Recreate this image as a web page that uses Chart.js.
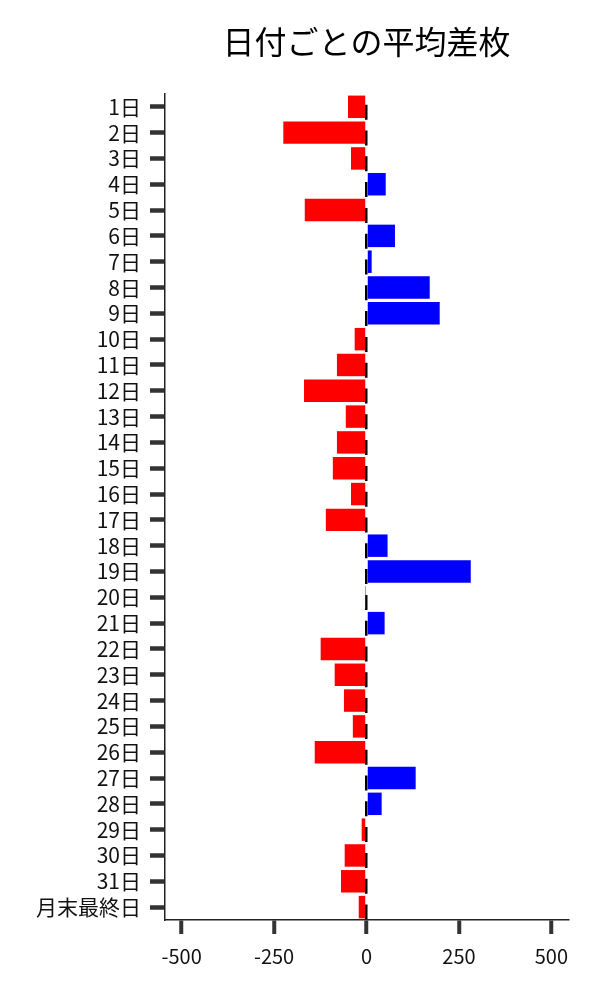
<!DOCTYPE html>
<html>
<head>
<meta charset="utf-8">
<script src="https://cdn.jsdelivr.net/npm/chart.js@4"></script>
<style>
  body { margin: 0; background: #fff; }
  #wrap { width: 600px; height: 1000px; }
</style>
</head>
<body>
<div id="wrap"><canvas id="myChart"></canvas></div>
<script>
// data
var days = ["1日","2日","3日","4日","5日","6日","7日","8日","9日","10日",
  "11日","12日","13日","14日","15日","16日","17日","18日","19日","20日",
  "21日","22日","23日","24日","25日","26日","27日","28日","29日","30日",
  "31日","月末最終日"];
var diffs = [-50,-225,-42,52,-167,77,14,171,198,-32,
  -80,-169,-56,-80,-91,-42,-110,57,282,-2,
  49,-124,-86,-61,-37,-140,133,41,-13,-59,
  -69,-21];
var xTicks = [-500,-250,0,250,500];
var chartTitle = "日付ごとの平均差枚";

var barColors = diffs.map(function(v){ return v < 0 ? "#ff0000" : "#0000ff"; });
var jp = "'Noto Sans CJK JP', 'Noto Sans', sans-serif";

new Chart("myChart", {
  type: "bar",
  data: {
    labels: days,
    datasets: [{
      data: diffs,
      backgroundColor: barColors,
      borderWidth: 0,
      barPercentage: 0.87,
      categoryPercentage: 1.0
    }]
  },
  options: {
    indexAxis: "y",
    responsive: true,
    maintainAspectRatio: false,
    animation: false,
    layout: { padding: { top: 23, right: 32, bottom: 0, left: 0 } },
    plugins: {
      legend: { display: false },
      tooltip: { enabled: false },
      title: {
        display: true,
        text: chartTitle,
        fullSize: false,
        color: "#000",
        font: { family: jp, size: 32, weight: "normal" },
        padding: { top: 0, bottom: 32.5 }
      }
    },
    scales: {
      x: {
        min: -545,
        max: 545,
        afterBuildTicks: function(scale){
          scale.ticks = xTicks.map(function(v){ return { value: v }; });
        },
        afterFit: function(scale){ scale.height = 80; },
        // dashed zero line (grid dash comes from border.dash in v4)
        border: { display: true, color: "#222", width: 1.5, dash: [15, 10.8], dashOffset: 15 },
        grid: {
          drawOnChartArea: true,
          color: function(ctx){ return ctx.tick && ctx.tick.value === 0 ? "#000" : "rgba(0,0,0,0)"; },
          lineWidth: 2.5,
          tickColor: "#333",
          tickWidth: 4,
          tickLength: 14
        },
        ticks: {
          color: "#111",
          padding: 10,
          font: { family: jp, size: 20 }
        }
      },
      y: {
        afterFit: function(scale){ scale.width = 165; },
        border: { display: true, color: "#222", width: 1.5 },
        grid: {
          offset: false,
          drawOnChartArea: false,
          tickColor: "#333",
          tickWidth: 4.5,
          tickLength: 15
        },
        ticks: {
          color: "#111",
          padding: 9,
          autoSkip: false,
          font: { family: jp, size: 21 }
        }
      }
    }
  }
});
</script>
</body>
</html>
